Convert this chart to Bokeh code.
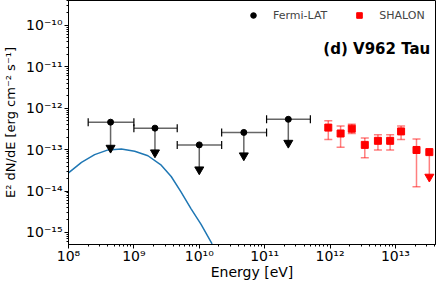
from bokeh.plotting import figure
from bokeh.models import (ColumnDataSource, Whisker, TeeHead, FixedTicker,
                          CustomJSTickFormatter, Legend, LegendItem, Label)
from bokeh.embed import file_html
from bokeh.resources import INLINE

# ---- data ----
fermi_E = [4.4e8, 2.1e9, 1.0e10, 4.8e10, 2.3e11]
fermi_E_lo = [2.0e8, 1.0e9, 4.6e9, 2.2e10, 1.07e11]
fermi_E_hi = [1.0e9, 4.6e9, 2.2e10, 1.07e11, 5.0e11]
fermi_ul = [4.6e-13, 3.3e-13, 1.3e-13, 2.6e-13, 5.4e-13]
fermi_ul_end = [1.1e-13, 8.5e-14, 3.3e-14, 7.2e-14, 1.45e-13]

shalon_E = [9.4e11, 1.45e12, 2.15e12, 3.4e12, 5.4e12, 8.3e12, 1.22e13, 2.1e13]
shalon_F = [3.4e-13, 2.45e-13, 3.2e-13, 1.3e-13, 1.63e-13, 1.63e-13, 2.75e-13, 9.8e-14]
shalon_F_hi = [5.0e-13, 3.7e-13, 4.1e-13, 1.9e-13, 2.3e-13, 2.3e-13, 3.7e-13, 1.8e-13]
shalon_F_lo = [1.75e-13, 1.14e-13, 2.45e-13, 6.4e-14, 9.8e-14, 9.8e-14, 1.75e-13, 1.26e-14]
shalon_ul_E = [3.3e13]
shalon_ul_F = [8.7e-14]
shalon_ul_end = [2.2e-14]

model_E = [1.0e8, 1.58e8, 2.51e8, 4.03e8, 6.43e8, 1.03e9, 1.64e9, 2.62e9,
           3.72e9, 5.25e9, 7.5e9, 1.06e10, 1.57e10]
model_F = [2.74e-14, 4.93e-14, 7.57e-14, 9.84e-14, 1.04e-13, 9.1e-14, 7.1e-14,
           4.2e-14, 2.24e-14, 9.5e-15, 3.7e-15, 1.58e-15, 5.3e-16]

x_major = [1e8, 1e9, 1e10, 1e11, 1e12, 1e13]
y_major = [1e-15, 1e-14, 1e-13, 1e-12, 1e-11, 1e-10]

FONT = "DejaVu Sans"

p = figure(width=436, height=282, x_axis_type="log", y_axis_type="log",
           x_range=(1e8, 4.1e13), y_range=(5.1e-16, 4.0e-10),
           output_backend="svg", toolbar_location=None,
           min_border_left=67, min_border_right=1, min_border_top=0,
           min_border_bottom=38)
p.grid.visible = False
p.outline_line_color = "black"
p.outline_line_width = 1
p.background_fill_color = "white"

x_minor = [m * 10.0 ** e for e in range(8, 14) for m in range(2, 10)]
y_minor = [m * 10.0 ** e for e in range(-16, -9) for m in range(2, 10)]
p.xaxis.ticker = FixedTicker(ticks=x_major, minor_ticks=x_minor)
p.yaxis.ticker = FixedTicker(ticks=y_major, minor_ticks=y_minor)

fmt = CustomJSTickFormatter(code="""
const e = Math.round(Math.log10(tick));
const sup = {'-':'\u207b','0':'\u2070','1':'\u00b9','2':'\u00b2','3':'\u00b3','4':'\u2074','5':'\u2075','6':'\u2076','7':'\u2077','8':'\u2078','9':'\u2079'};
return '10' + String(e).split('').map(c => sup[c]).join('');
""")
for ax in (p.xaxis[0], p.yaxis[0]):
    ax.formatter = fmt
    ax.major_label_text_font = FONT
    ax.major_label_text_font_size = "14px"
    ax.major_label_text_color = "black"
    ax.axis_label_text_font = FONT
    ax.axis_label_text_font_style = "normal"
    ax.axis_label_text_color = "black"
    ax.axis_line_color = "black"
    ax.major_tick_line_color = "black"
    ax.minor_tick_line_color = "black"
    ax.major_tick_in = 0
    ax.major_tick_out = 4
    ax.minor_tick_in = 0
    ax.minor_tick_out = 2
    ax.major_label_standoff = 2

p.xaxis.major_label_standoff = -1
p.xaxis.axis_label = "Energy [eV]"
p.xaxis.axis_label_text_font_size = "14px"
p.xaxis.axis_label_standoff = -3
p.yaxis.axis_label = "E\u00b2 dN/dE [erg cm\u207b\u00b2 s\u207b\u00b9]"
p.yaxis.axis_label_text_font_size = "13px"
p.yaxis.axis_label_standoff = 5

# ---- model curve ----
p.line(model_E, model_F, line_color="#1f77b4", line_width=1.5)

# ---- Fermi-LAT upper limits ----
fsrc = ColumnDataSource(dict(E=fermi_E, lo=fermi_E_lo, hi=fermi_E_hi,
                             ul=fermi_ul, end=fermi_ul_end))
p.add_layout(Whisker(source=fsrc, base="ul", lower="lo", upper="hi",
                     dimension="width", line_color="black", line_alpha=0.6,
                     line_width=1.5,
                     lower_head=TeeHead(size=8, line_color="black", line_width=1.2),
                     upper_head=TeeHead(size=8, line_color="black", line_width=1.2)))
p.segment(x0="E", y0="ul", x1="E", y1="end", source=fsrc,
          line_color="black", line_alpha=0.6, line_width=1.5)
p.scatter(x="E", y="end", source=fsrc, marker="inverted_triangle", size=9,
          fill_color="black", line_color="black")
fermi_pts = p.scatter(x="E", y="ul", source=fsrc, marker="circle", size=6,
                      fill_color="black", line_color="black")

# ---- SHALON ----
ssrc = ColumnDataSource(dict(E=shalon_E, F=shalon_F, hi=shalon_F_hi, lo=shalon_F_lo))
p.add_layout(Whisker(source=ssrc, base="E", lower="lo", upper="hi",
                     dimension="height", line_color="red", line_alpha=0.5,
                     line_width=1.5,
                     lower_head=TeeHead(size=8, line_color="red", line_alpha=0.5, line_width=1.5),
                     upper_head=TeeHead(size=8, line_color="red", line_alpha=0.5, line_width=1.5)))
usrc = ColumnDataSource(dict(E=shalon_ul_E, F=shalon_ul_F, end=shalon_ul_end))
p.segment(x0="E", y0="F", x1="E", y1="end", source=usrc,
          line_color="red", line_alpha=0.5, line_width=1.5)
p.scatter(x="E", y="end", source=usrc, marker="inverted_triangle", size=9,
          fill_color="red", line_color="red")
p.scatter(x="E", y="F", source=usrc, marker="square", size=7,
          fill_color="red", line_color="red")
shalon_pts = p.scatter(x="E", y="F", source=ssrc, marker="square", size=7,
                       fill_color="red", line_color="red")

# legend helper glyphs (empty)
f_cross = p.scatter(x=[], y=[], marker="cross", size=12, line_color="black",
                    line_alpha=0.7, line_width=1.2)
s_bar = p.scatter(x=[], y=[], marker="dash", angle=1.5708, size=12,
                  line_color="red", line_alpha=0.6, line_width=1.5)

legend = Legend(items=[LegendItem(label="Fermi-LAT", renderers=[f_cross, fermi_pts]),
                       LegendItem(label="SHALON", renderers=[s_bar, shalon_pts])],
                orientation="horizontal", location=(175, 222),
                border_line_alpha=0, background_fill_alpha=0,
                label_text_font=FONT, label_text_font_size="11px",
                glyph_width=20, glyph_height=14, label_height=14,
                label_standoff=10, spacing=22, padding=0, margin=0)
p.add_layout(legend)

p.add_layout(Label(x=3.41e13, y=2.63e-11, text="(d) V962 Tau",
                   text_align="right", text_baseline="middle",
                   text_font=FONT, text_font_style="bold",
                   text_font_size="15px", text_color="black"))

open("out.html", "w").write(file_html(p, INLINE))
